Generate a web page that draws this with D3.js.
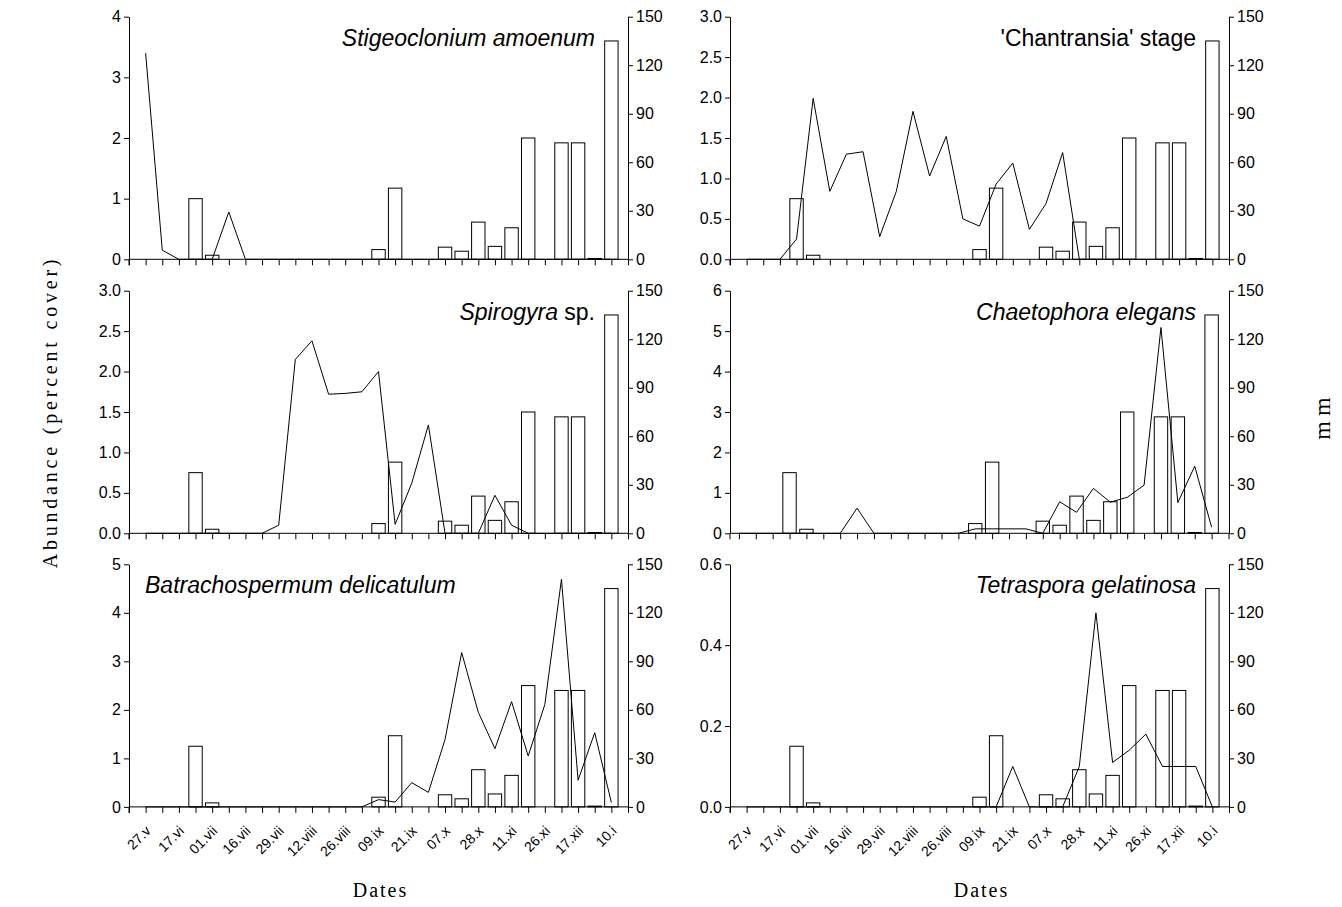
<!DOCTYPE html>
<html>
<head>
<meta charset="utf-8">
<script src="https://cdn.jsdelivr.net/npm/d3@7"></script>
<style>
body { margin: 0; background: #fff; }
svg { display: block; font-family: "Liberation Sans", Arial, sans-serif; }
</style>
</head>
<body>
<svg id="grafica" width="1342" height="907"></svg>
<script>
// fechas rotuladas (una de cada dos muestras)
let fechas = ["27.v","17.vi","01.vii","16.vii","29.vii","12.viii","26.viii","09.ix",
              "21.ix","07.x","28.x","11.xi","26.xi","17.xii","10.i"];
let muestras = d3.range(1, 30);

// precipitacion (mm) por muestra
let lluvia = [0,0,0,37.5,2.5,0,0,0,0,0,0,0,0,0,6,44,0,0,7.5,5,23,8,19.5,75,0,72,72,0.5,135];

// abundancia (% cobertura) por especie
let stigeoclonium = [3.4,0.15,0,0,0,0.78,0,0,0,0,0,0,0,0,0,0,0,0,0,0,0,0,0,0,0,0,0,0,0];
let spirogyra = [0,0,0,0,0,0,0,0,0.1,2.15,2.38,1.72,1.73,1.75,2.0,0.11,0.62,1.34,0,0,0,0.47,0.1,0,0,0,0,0,0];
let batrachospermum = [0,0,0,0,0,0,0,0,0,0,0,0,0,0,0.15,0.1,0.5,0.3,1.39,3.18,1.95,1.2,2.17,1.05,2.11,4.69,0.55,1.53,0.09];
let chantransia = [0,0,0,0.25,1.99,0.84,1.30,1.33,0.28,0.84,1.83,1.03,1.52,0.50,0.41,0.93,1.19,0.37,0.69,1.32,0,0,0,0,0,0,0,0,0];
let chaetophora = [0,0,0,0,0,0,0,0.62,0,0,0,0,0,0,0.11,0.11,0.11,0.11,0,0.78,0.52,1.11,0.77,0.89,1.19,5.09,0.76,1.66,0.15];
let tetraspora = [0,0,0,0,0,0,0,0,0,0,0,0,0,0,0,0,0.1,0,0,0,0.1,0.48,0.11,0.14,0.18,0.1,0.1,0.1,0];

let paneles = [
    {serie: stigeoclonium, max: 4, paso: 1, fmt: "d", col: 0, fila: 0,
     titulo: [["Stigeoclonium amoenum", true]], ancla: "end"},
    {serie: chantransia, max: 3, paso: 0.5, fmt: ".1f", col: 1, fila: 0,
     titulo: [["'Chantransia' stage", false]], ancla: "end"},
    {serie: spirogyra, max: 3, paso: 0.5, fmt: ".1f", col: 0, fila: 1,
     titulo: [["Spirogyra", true], [" sp.", false]], ancla: "end"},
    {serie: chaetophora, max: 6, paso: 1, fmt: "d", col: 1, fila: 1,
     titulo: [["Chaetophora elegans", true]], ancla: "end", corrido: true},
    {serie: batrachospermum, max: 5, paso: 1, fmt: "d", col: 0, fila: 2,
     titulo: [["Batrachospermum delicatulum", true]], ancla: "start"},
    {serie: tetraspora, max: 0.6, paso: 0.2, fmt: ".1f", col: 1, fila: 2,
     titulo: [["Tetraspora gelatinosa", true]], ancla: "end"}
];

let svg = d3.select("#grafica");
let columnas = [[129, 628], [730, 1229]];
let filas = [16.7, 290.7, 564.3];
let alto = 242.6;

paneles.forEach(function(p) {

    let x0 = columnas[p.col][0];
    let x1 = columnas[p.col][1];
    let top = filas[p.fila];
    let base = top + alto;

    // el panel central derecho tiene el eje de fechas algo desplazado
    let xscale = d3.scaleLinear().domain([0, 30])
        .range(p.corrido ? [722, 1228.5] : [x0, x1]);
    let yscale = d3.scaleLinear().domain([0, p.max]).range([base, top]);
    let mmscale = d3.scaleLinear().domain([0, 150]).range([base, top]);

    let g = svg.append("g").attr("class", "panel");

    // barras de lluvia
    g.selectAll(".barra")
        .data(muestras.filter((k, i) => lluvia[i] > 0))
        .enter()
        .append("rect")
        .attr("class", "barra")
        .attr("x", k => xscale(k) - 6.7)
        .attr("y", k => mmscale(lluvia[k - 1]))
        .attr("width", 13.4)
        .attr("height", k => base - mmscale(lluvia[k - 1]))
        .style("fill", "white")
        .style("stroke", "black")
        .style("stroke-width", 1);

    // linea de abundancia
    let linea = d3.line()
        .x((v, i) => xscale(muestras[i]))
        .y(v => yscale(v));

    g.append("path")
        .datum(p.serie)
        .attr("d", linea)
        .style("fill", "none")
        .style("stroke", "black")
        .style("stroke-width", 1);

    // eje de fechas
    let ejex = g.append("g")
        .attr("transform", "translate(0," + base + ")")
        .call(d3.axisBottom(xscale)
            .tickValues(p.corrido ? d3.range(1, 31) : d3.range(0, 31))
            .tickSize(6)
            .tickFormat(""));
    ejex.select(".domain").remove();
    ejex.selectAll("line").style("stroke", "black");

    g.append("line")
        .attr("x1", x0).attr("x2", x1)
        .attr("y1", base).attr("y2", base)
        .style("stroke", "black");

    g.append("line")
        .attr("x1", x0).attr("x2", x0)
        .attr("y1", base).attr("y2", base + 6)
        .style("stroke", "black");

    // eje izquierdo
    let ejey = g.append("g")
        .attr("transform", "translate(" + x0 + ",0)")
        .call(d3.axisLeft(yscale)
            .tickValues(d3.range(0, p.max + p.paso / 2, p.paso))
            .tickSize(5)
            .tickSizeOuter(0)
            .tickPadding(3)
            .tickFormat(d3.format(p.fmt)));

    // eje derecho (mm)
    let ejemm = g.append("g")
        .attr("transform", "translate(" + x1 + ",0)")
        .call(d3.axisRight(mmscale)
            .tickValues(d3.range(0, 151, 30))
            .tickSize(5)
            .tickSizeOuter(0)
            .tickPadding(3));

    [ejey, ejemm].forEach(function(e) {
        e.select(".domain").style("stroke", "black");
        e.selectAll("line").style("stroke", "black");
        e.selectAll("text")
            .style("font-family", "'Liberation Sans', Arial, sans-serif")
            .style("font-size", "16px")
            .style("fill", "black");
    });

    // nombre de la especie
    let tit = g.append("text")
        .attr("x", p.ancla == "end" ? x1 - 33 : x0 + 16)
        .attr("y", top + 29)
        .style("text-anchor", p.ancla)
        .style("font-size", "23px")
        .style("fill", "black");

    p.titulo.forEach(function(t) {
        tit.append("tspan")
            .text(t[0])
            .style("font-style", t[1] ? "italic" : "normal");
    });

    // fechas en la fila inferior
    if (p.fila == 2) {
        g.selectAll(".fecha")
            .data(fechas)
            .enter()
            .append("text")
            .attr("class", "fecha")
            .attr("transform", (d, i) => "translate(" + (xscale(2 * i + 1) + 6) + "," + (base + 25) + ") rotate(-45)")
            .text(d => d)
            .style("text-anchor", "end")
            .style("font-size", "14px")
            .style("fill", "black");

        svg.append("text")
            .attr("x", (x0 + x1) / 2 + 2)
            .attr("y", 897)
            .text("Dates")
            .style("text-anchor", "middle")
            .style("font-family", "'Liberation Serif', 'Times New Roman', serif")
            .style("font-size", "20px")
            .style("letter-spacing", "2px");
    }
});

// titulos de los ejes
svg.append("text")
    .attr("transform", "translate(57,412) rotate(-90)")
    .text("Abundance (percent cover)")
    .style("text-anchor", "middle")
    .style("font-family", "'Liberation Serif', 'Times New Roman', serif")
    .style("font-size", "20px")
    .style("letter-spacing", "3.8px");

svg.append("text")
    .attr("transform", "translate(1330,416) rotate(-90)")
    .text("mm")
    .style("text-anchor", "middle")
    .style("font-family", "'Liberation Serif', 'Times New Roman', serif")
    .style("font-size", "24px")
    .style("letter-spacing", "5px");
</script>
</body>
</html>
